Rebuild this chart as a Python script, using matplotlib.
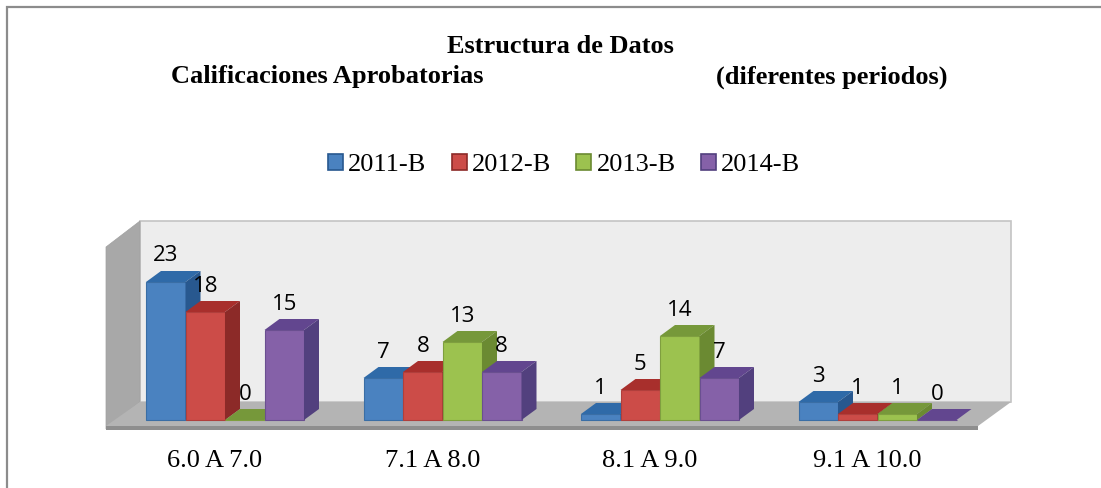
import numpy as np
import matplotlib
matplotlib.use("Agg")
import matplotlib.pyplot as plt
from matplotlib.patches import Polygon, Rectangle

# ==========================================
# DATA
# ==========================================
categories = ["6.0 A 7.0", "7.1 A 8.0", "8.1 A 9.0", "9.1 A 10.0"]
series_names = ["2011-B", "2012-B", "2013-B", "2014-B"]
values_2011 = [23, 7, 1, 3]
values_2012 = [18, 8, 5, 1]
values_2013 = [0, 13, 14, 1]
values_2014 = [15, 8, 7, 0]

# ==========================================
# CONFIGURATION
# ==========================================
W, H = 1101, 488
FRONT = ["#4a82c0", "#cc4c48", "#9cc24f", "#8561a8"]
TOP = ["#2f6aa8", "#a82f2c", "#76983a", "#62468f"]
SIDE = ["#28588f", "#8c2a28", "#6b8a32", "#52407e"]
EDGE = ["#3a6ea5", "#b03f3c", "#7f9f3f", "#6a4f90"]

# pixel scale of the chart (group spacing, one unit of value)
GROUP_PX = 217.5
UNIT_PX = 6.0
BAR_W = 39.5 / GROUP_PX
DX = 15 / GROUP_PX
DY = 11 / UNIT_PX
X0_PX = 225.0
BASE_PX = 420.0


def px(x, y):
    # pixel position of the picture -> data position
    return (x - X0_PX) / GROUP_PX, (BASE_PX - y) / UNIT_PX


def draw_bar(ax, x, w, v, i):
    z = 10 + i
    ax.bar(x, v, width=w, color=FRONT[i], edgecolor=EDGE[i], linewidth=0.8, zorder=z)
    ax.add_patch(Polygon([(x - w / 2, v), (x - w / 2 + DX, v + DY), (x + w / 2 + DX, v + DY), (x + w / 2, v)],
                         closed=True, facecolor=TOP[i], edgecolor="none", zorder=z))
    ax.add_patch(Polygon([(x + w / 2, 0), (x + w / 2 + DX, DY), (x + w / 2 + DX, v + DY), (x + w / 2, v)],
                         closed=True, facecolor=SIDE[i], edgecolor="none", zorder=z))


fig = plt.figure(figsize=(W / 100, H / 100), dpi=100)
ax = fig.add_axes([0, 0, 1, 1])
ax.set_xlim(px(0, 0)[0], px(W, 0)[0])
ax.set_ylim(px(0, H)[1], px(0, 0)[1])
ax.axis("off")

# outer frame: only the left and top edges show in the picture
corner = px(7, 7.5)
ax.plot([px(7, H)[0], corner[0], px(W, 0)[0]], [px(0, H)[1], corner[1], corner[1]],
        color="#8c8c8c", linewidth=1.6, zorder=0, solid_joinstyle="miter")

# back wall, side wall and floor
ax.add_patch(Polygon([px(140, 221), px(1011, 221), px(1011, 402), px(140, 402)], closed=True,
                     facecolor="#ededed", edgecolor="#c4c4c4", linewidth=1.2, zorder=1))
ax.add_patch(Polygon([px(106, 247), px(140, 221), px(140, 402), px(106, 429)], closed=True,
                     facecolor="#a8a8a8", edgecolor="#a0a0a0", linewidth=0.5, zorder=2))
ax.add_patch(Polygon([px(106, 426), px(140, 402), px(1011, 402), px(978, 426)], closed=True,
                     facecolor="#b4b4b4", edgecolor="none", zorder=2))
ax.add_patch(Polygon([px(106, 426), px(978, 426), px(978, 430), px(106, 430)], closed=True,
                     facecolor="#8e8e8e", edgecolor="none", zorder=2))

all_values = [values_2011, values_2012, values_2013, values_2014]
pos = np.arange(len(categories))
for i, vals in enumerate(all_values):
    offs = pos + (i - 1.5) * BAR_W
    for g, v in enumerate(vals):
        draw_bar(ax, offs[g], BAR_W, v, i)
    for g, v in enumerate(vals):
        ax.text(offs[g], v + 26 / UNIT_PX, str(v), ha="center", va="center", fontsize=16,
                family="Open Sans", color="black", zorder=30)

for g, c in enumerate(categories):
    ax.text(pos[g] - 10 / GROUP_PX, px(0, 461)[1], c, ha="center", va="center", fontsize=19,
            family="Liberation Serif", color="black", zorder=30)

# title lines
ax.text(*px(560, 47), "Estructura de Datos", ha="center", va="center", fontsize=19,
        family="Liberation Serif", weight="bold")
ax.text(*px(171, 77), "Calificaciones Aprobatorias", ha="left", va="center", fontsize=19,
        family="Liberation Serif", weight="bold")
ax.text(*px(947, 77), "(diferentes periodos)", ha="right", va="center", fontsize=19,
        family="Liberation Serif", weight="bold")

# legend
handles = [Rectangle((0, 0), 1, 1, facecolor=FRONT[i], edgecolor=SIDE[i], linewidth=1.2) for i in range(4)]
leg = ax.legend(handles, series_names, ncol=4, loc="center", bbox_to_anchor=(564 / W, 1 - 165 / H),
                frameon=False, prop={"family": "Liberation Serif", "size": 19},
                handlelength=0.57, handleheight=0.57, handletextpad=0.2, columnspacing=0.95)
leg.set_zorder(30)

fig.savefig("out.png", dpi=100)
